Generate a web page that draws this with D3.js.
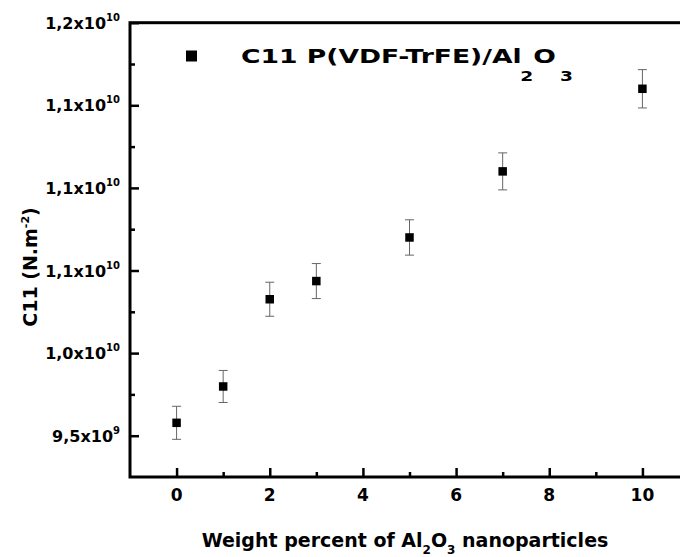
<!DOCTYPE html>
<html>
<head>
<meta charset="utf-8">
<script src="https://cdnjs.cloudflare.com/ajax/libs/d3/7.8.5/d3.min.js"></script>
<style>
  body { margin: 0; background: #fff; }
  svg text { font-family: "DejaVu Sans", sans-serif; font-weight: bold; fill: #000; }
</style>
</head>
<body>
<svg id="chart" width="680" height="557"></svg>
<script>
// values
var weightPercent = [0, 1, 2, 3, 5, 7, 10];
var c11Values = [9.578e9, 9.798e9, 1.0326e10, 1.0436e10, 1.070e10, 1.110e10, 1.160e10];
var c11Errors = [1.0e8, 0.97e8, 1.03e8, 1.06e8, 1.07e8, 1.12e8, 1.16e8];

var xTickValues = [0, 2, 4, 6, 8, 10];
var xMinorValues = [1, 3, 5, 7, 9];
var yTickValues = [9.5e9, 1.0e10, 1.05e10, 1.1e10, 1.15e10, 1.2e10];
var yMinorValues = [9.75e9, 1.025e10, 1.075e10, 1.125e10, 1.175e10];
var yTickMantissa = ["9,5", "1,0", "1,1", "1,1", "1,1", "1,2"];
var yTickExponent = ["9", "10", "10", "10", "10", "10"];

var svg = d3.select("#chart");
// plot box (note: "top" is taken by window.top, so use other names)
var pLeft = 130, pTop = 22.7, pBottom = 477, pRight = 689;

var x = d3.scaleLinear().domain([-1, 11]).range([pLeft, pRight]);
var y = d3.scaleLinear().domain([9.25e9, 1.2e10]).range([pBottom, pTop]);

// frame (right side runs off the picture)
svg.append("rect")
  .attr("x", pLeft).attr("y", pTop)
  .attr("width", pRight - pLeft).attr("height", pBottom - pTop)
  .attr("fill", "none").attr("stroke", "#000").attr("stroke-width", 3);

// inward ticks
var xMajor = d3.axisTop(x).tickValues(xTickValues).tickSize(9).tickFormat("");
var xMinor = d3.axisTop(x).tickValues(xMinorValues).tickSize(5).tickFormat("");
var yMajor = d3.axisRight(y).tickValues(yTickValues).tickSize(9).tickFormat("");
var yMinor = d3.axisRight(y).tickValues(yMinorValues).tickSize(5).tickFormat("");

[[xMajor, "translate(0," + pBottom + ")"], [xMinor, "translate(0," + pBottom + ")"],
 [yMajor, "translate(" + pLeft + ",0)"], [yMinor, "translate(" + pLeft + ",0)"]].forEach(function(a) {
  var g = svg.append("g").attr("transform", a[1]).call(a[0]);
  g.select(".domain").remove();
  g.selectAll("line").attr("stroke", "#000").attr("stroke-width", 2.5);
});

// x tick labels
svg.append("g").selectAll("text")
  .data(xTickValues)
  .enter().append("text")
    .attr("x", function(d) { return x(d); })
    .attr("y", 500.5)
    .attr("text-anchor", "middle")
    .style("font-size", "17px")
    .text(function(d) { return d; });

// y tick labels, mantissa + superscript exponent
var yl = svg.append("g").selectAll("text")
  .data(yTickValues)
  .enter().append("text")
    .attr("x", 120)
    .attr("y", function(d) { return y(d) + 6; })
    .attr("text-anchor", "end")
    .style("font-size", "16px");
yl.append("tspan").text(function(d, i) { return yTickMantissa[i] + "x10"; });
yl.append("tspan").attr("dy", -8).style("font-size", "10px")
  .text(function(d, i) { return yTickExponent[i]; });

// error bars
var bars = svg.append("g").selectAll("g")
  .data(weightPercent)
  .enter().append("g")
    .attr("stroke", "#666").attr("stroke-width", 1);
bars.append("line")
  .attr("x1", function(d) { return x(d); }).attr("x2", function(d) { return x(d); })
  .attr("y1", function(d, i) { return y(c11Values[i] + c11Errors[i]); })
  .attr("y2", function(d, i) { return y(c11Values[i] - c11Errors[i]); });
bars.append("line")
  .attr("x1", function(d) { return x(d) - 4.5; }).attr("x2", function(d) { return x(d) + 4.5; })
  .attr("y1", function(d, i) { return y(c11Values[i] + c11Errors[i]); })
  .attr("y2", function(d, i) { return y(c11Values[i] + c11Errors[i]); });
bars.append("line")
  .attr("x1", function(d) { return x(d) - 4.5; }).attr("x2", function(d) { return x(d) + 4.5; })
  .attr("y1", function(d, i) { return y(c11Values[i] - c11Errors[i]); })
  .attr("y2", function(d, i) { return y(c11Values[i] - c11Errors[i]); });

// square markers
svg.append("g").selectAll("rect")
  .data(weightPercent)
  .enter().append("rect")
    .attr("x", function(d) { return x(d) - 4.25; })
    .attr("y", function(d, i) { return y(c11Values[i]) - 4.25; })
    .attr("width", 8.5).attr("height", 8.5)
    .attr("fill", "#000");

// legend
svg.append("rect")
  .attr("x", 186).attr("y", 50.5).attr("width", 11).attr("height", 11)
  .attr("fill", "#000");
var lg = svg.append("text")
  .attr("transform", "translate(241,62.7) scale(1.33,1)")
  .style("font-size", "20px");
lg.append("tspan").text("C11 P(VDF-TrFE)/Al");
lg.append("tspan").attr("dy", 18).attr("dx", -1).style("font-size", "14px").text("2");
lg.append("tspan").attr("dy", -18).text("O");
lg.append("tspan").attr("dy", 18).attr("dx", 3).style("font-size", "14px").text("3");

// x axis title
var xt = svg.append("text")
  .attr("x", 405).attr("y", 547)
  .attr("text-anchor", "middle")
  .style("font-size", "19px");
xt.append("tspan").text("Weight percent of Al");
xt.append("tspan").attr("dy", 7).style("font-size", "12px").text("2");
xt.append("tspan").attr("dy", -7).text("O");
xt.append("tspan").attr("dy", 7).style("font-size", "12px").text("3");
xt.append("tspan").attr("dy", -7).text(" nanoparticles");

// y axis title
var yt = svg.append("text")
  .attr("transform", "translate(37,267) rotate(-90)")
  .attr("text-anchor", "middle")
  .style("font-size", "19px");
yt.append("tspan").text("C11 (N.m");
yt.append("tspan").attr("dy", -8).style("font-size", "11px").text("-2");
yt.append("tspan").attr("dy", 8).text(")");
</script>
</body>
</html>
